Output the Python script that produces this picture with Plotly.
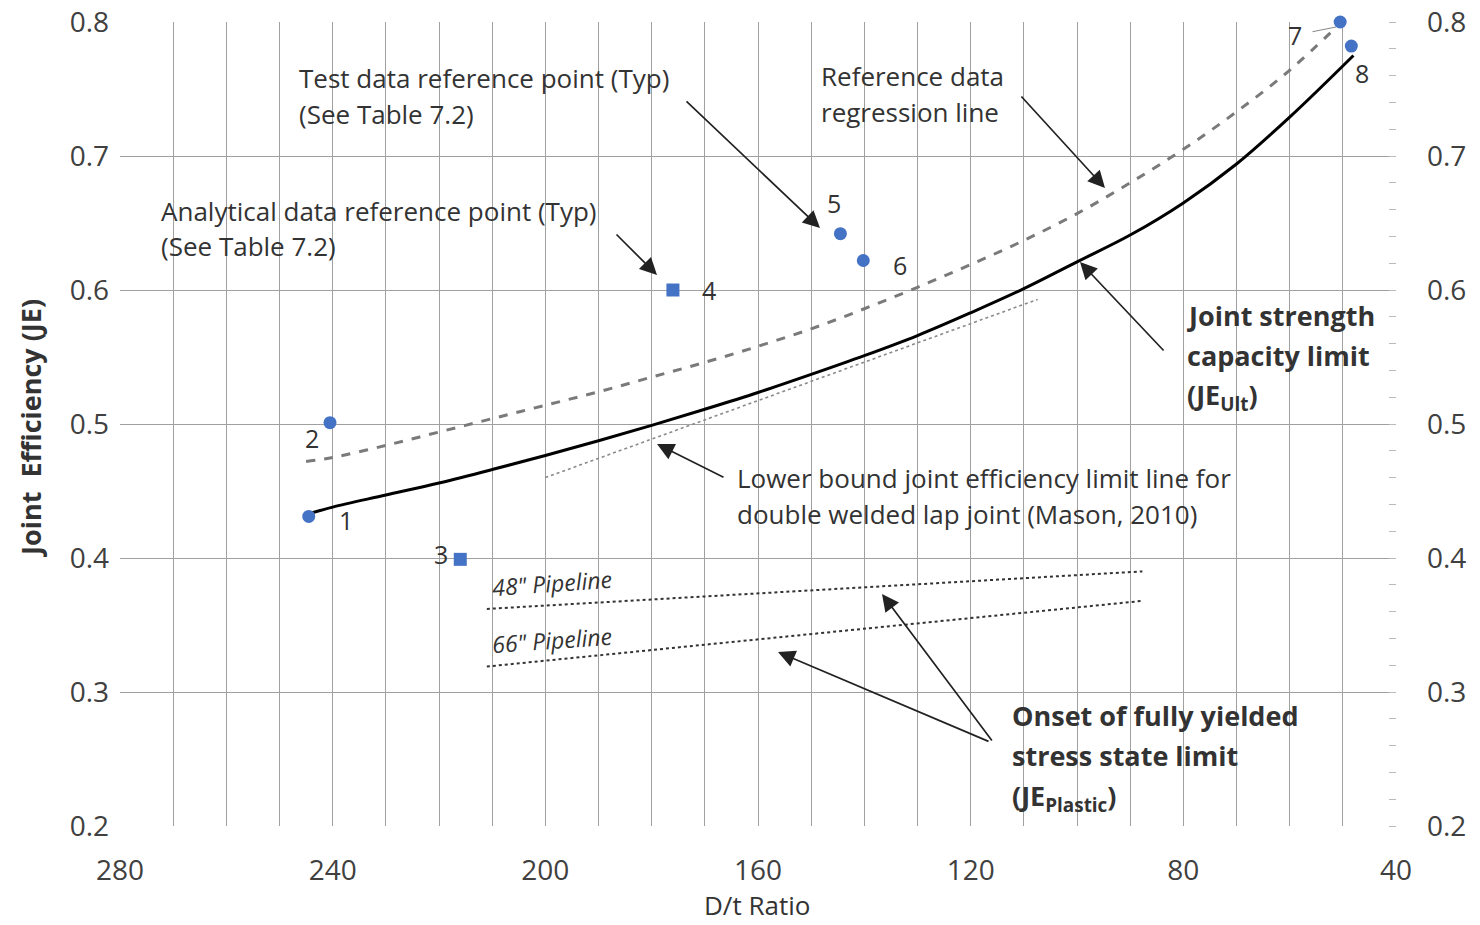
import plotly.graph_objects as go

# ---------------- data ----------------
point_ids = ["1", "2", "3", "4", "5", "6", "7", "8"]
point_dt = [244.5, 240.5, 216.0, 176.0, 144.5, 140.2, 50.5, 48.4]
point_je = [0.431, 0.501, 0.399, 0.600, 0.642, 0.622, 0.800, 0.782]
point_kind = ["test", "test", "analytical", "analytical", "test", "test", "test", "test"]

# Joint strength capacity limit (JE_ult)
ult_dt = [244.5, 240, 230, 220, 210, 200, 190, 180, 170, 160, 150, 140, 130, 120, 110, 100, 90, 80, 70, 60, 48]
ult_je = [0.433, 0.438, 0.447, 0.456, 0.466, 0.4765, 0.4875, 0.499, 0.511, 0.5235, 0.537, 0.551, 0.566, 0.583,
          0.601, 0.621, 0.641, 0.665, 0.694, 0.729, 0.775]

# Reference data regression line
reg_dt = [245, 240, 230, 220, 210, 200, 190, 180, 170, 160, 150, 140, 130, 120, 110, 100, 90, 80, 70, 60, 50.5]
reg_je = [0.472, 0.475, 0.484, 0.494, 0.504, 0.514, 0.524, 0.535, 0.546, 0.558, 0.571, 0.586, 0.602, 0.619,
          0.637, 0.657, 0.680, 0.705, 0.733, 0.764, 0.799]

# Lower bound joint efficiency limit line (Mason, 2010)
lb_dt = [200, 107.4]
lb_je = [0.460, 0.593]

# Onset of fully yielded stress state limit
p48_dt = [211, 87.7]
p48_je = [0.362, 0.390]
p66_dt = [211, 87.7]
p66_je = [0.319, 0.368]

x_ticks = [280, 240, 200, 160, 120, 80, 40]
y_ticks = [0.2, 0.3, 0.4, 0.5, 0.6, 0.7, 0.8]

# ---------------- helpers ----------------
L, R, T, B = 120, 1396, 22, 826
X0, X1, Y0, Y1 = 280, 40, 0.2, 0.8


def dx(p):
    return X0 + (p - L) * (X1 - X0) / (R - L)


def dy(p):
    return Y1 - (p - T) * (Y1 - Y0) / (B - T)


def pxp(p):
    return (p - L) / (R - L)


def pyp(p):
    return (B - p) / (B - T)


FONT = "Open Sans"
TXT = "#333333"
BLUE = "#4472C4"

fig = go.Figure()

fig.add_trace(go.Scatter(x=ult_dt, y=ult_je, mode="lines",
                         line=dict(color="black", width=3, shape="spline", smoothing=1.0), showlegend=False))
fig.add_trace(go.Scatter(x=reg_dt, y=reg_je, mode="lines",
                         line=dict(color="#7a7a7a", width=3, dash="dash", shape="spline", smoothing=1.0),
                         showlegend=False))
fig.add_trace(go.Scatter(x=lb_dt, y=lb_je, mode="lines", line=dict(color="#8a8a8a", width=1.6, dash="dot"),
                         showlegend=False))
fig.add_trace(go.Scatter(x=p48_dt, y=p48_je, mode="lines", line=dict(color="#333333", width=2, dash="dot"),
                         showlegend=False))
fig.add_trace(go.Scatter(x=p66_dt, y=p66_je, mode="lines", line=dict(color="#333333", width=2, dash="dot"),
                         showlegend=False))

circ_x = [x for x, k in zip(point_dt, point_kind) if k == "test"]
circ_y = [y for y, k in zip(point_je, point_kind) if k == "test"]
sq_x = [x for x, k in zip(point_dt, point_kind) if k == "analytical"]
sq_y = [y for y, k in zip(point_je, point_kind) if k == "analytical"]
fig.add_trace(go.Scatter(x=circ_x, y=circ_y, mode="markers", marker=dict(symbol="circle", size=13, color=BLUE),
                         showlegend=False, cliponaxis=False))
fig.add_trace(go.Scatter(x=sq_x, y=sq_y, mode="markers", marker=dict(symbol="square", size=13, color=BLUE),
                         showlegend=False, cliponaxis=False))
# invisible trace for the right axis
fig.add_trace(go.Scatter(x=[X0], y=[Y0], yaxis="y2", mode="markers", marker=dict(opacity=0), showlegend=False,
                         hoverinfo="skip"))

ann = []
# point labels
label_shift = {"1": (37, -4), "2": (-18, -15), "3": (-19, 5), "4": (36, 0), "5": (-6, 31),
               "6": (37, -4), "7": (-45, -13), "8": (11, -27)}
for pid, x, y in zip(point_ids, point_dt, point_je):
    sx, sy = label_shift[pid]
    ann.append(dict(x=x, y=y, xref="x", yref="y", text=pid, showarrow=False, xshift=sx, yshift=sy,
                    font=dict(family=FONT, size=25, color=TXT)))

# leader for label 7
ann.append(dict(x=dx(1336), y=dy(27), ax=dx(1311), ay=dy(32), xref="x", yref="y", axref="x", ayref="y",
                text="", showarrow=True, arrowhead=0, arrowwidth=1, arrowcolor="#888888"))


def text_line(x, y, s, size=26, bold=False, italic=False, angle=0):
    t = s
    if bold:
        t = "<b>" + t + "</b>"
    if italic:
        t = "<i>" + t + "</i>"
    ann.append(dict(x=pxp(x), y=pyp(y), xref="paper", yref="paper", text=t, showarrow=False,
                    xanchor="left", yanchor="middle", textangle=angle,
                    font=dict(family=FONT, size=size, color=TXT)))


text_line(297, 78, "Test data reference point (Typ)")
text_line(297, 114, "(See Table 7.2)")
text_line(159, 211, "Analytical data reference point (Typ)")
text_line(159, 246, "(See Table 7.2)")
text_line(819, 76, "Reference data")
text_line(819, 112, "regression line")
text_line(1185, 315, "Joint strength", size=27, bold=True)
text_line(1185, 355, "capacity limit", size=27, bold=True)
text_line(1185, 397, "(JE<sub>Ult</sub>)", size=27, bold=True)
text_line(735, 478, "Lower bound joint efficiency limit line for")
text_line(735, 514, "double welded lap joint (Mason, 2010)")
text_line(1010, 715, "Onset of fully yielded", size=27, bold=True)
text_line(1010, 755, "stress state limit", size=27, bold=True)
text_line(1010, 797, "(JE<sub>Plastic</sub>)", size=27, bold=True)
text_line(489, 583, "48\" Pipeline", size=23, italic=True, angle=-4)
text_line(489, 640, "66\" Pipeline", size=23, italic=True, angle=-4)

# arrows (head pixel, tail pixel)
arrows = [((820, 228), (685, 100)),
          ((1105, 188), (1020, 95)),
          ((657, 275), (615, 233)),
          ((1080, 262), (1165, 352)),
          ((657, 444), (725, 478)),
          ((882, 594), (993, 742)),
          ((778, 652), (990, 742))]
for (hx, hy), (tx, ty) in arrows:
    ann.append(dict(x=dx(hx), y=dy(hy), ax=dx(tx), ay=dy(ty), xref="x", yref="y", axref="x", ayref="y",
                    text="", showarrow=True, arrowhead=2, arrowsize=2.0, arrowwidth=1.7,
                    arrowcolor="#222222", standoff=0))

# axis titles
ann.append(dict(x=pxp(757), y=pyp(905), xref="paper", yref="paper", text="D/t Ratio", showarrow=False,
                xanchor="center", yanchor="middle", font=dict(family=FONT, size=26, color=TXT)))
ann.append(dict(x=pxp(30), y=pyp(428), xref="paper", yref="paper", text="<b>Joint  Efficiency (JE)</b>",
                showarrow=False, textangle=-90, xanchor="center", yanchor="middle",
                font=dict(family=FONT, size=27, color=TXT)))

GRID = "#a0a0a0"
fig.update_layout(
    template="none",
    width=1480, height=925,
    margin=dict(l=L, r=1480 - R, t=T, b=925 - B, pad=0, autoexpand=False),
    paper_bgcolor="white", plot_bgcolor="white",
    annotations=ann,
    xaxis=dict(range=[X0, X1], tickvals=x_ticks, ticktext=[str(v) for v in x_ticks], automargin=False,
               showgrid=True, gridcolor=GRID, gridwidth=1, zeroline=False, showline=False, ticks="",
               minor=dict(dtick=10, showgrid=True, gridcolor=GRID, gridwidth=1, ticks=""),
               tickfont=dict(family=FONT, size=28, color="#404040"), ticklabelstandoff=25),
    yaxis=dict(range=[Y0, Y1], tickvals=y_ticks, ticktext=["%.1f" % v for v in y_ticks], automargin=False,
               showgrid=True, gridcolor=GRID, gridwidth=1, zeroline=False, showline=False, ticks="",
               tickfont=dict(family=FONT, size=28, color="#404040"), ticklabelstandoff=10),
    yaxis2=dict(range=[Y0, Y1], tickvals=y_ticks, ticktext=["%.1f" % v for v in y_ticks], overlaying="y",
                side="right", showgrid=False, zeroline=False, showline=False, ticks="", automargin=False,
                minor=dict(dtick=0.02, ticks="inside", ticklen=7, tickcolor="#bbbbbb", showgrid=False),
                tickfont=dict(family=FONT, size=28, color="#404040"), ticklabelstandoff=30),
)

fig.write_html("out.html", config={"displayModeBar": False},
               post_script="document.body.style.margin='0';document.body.style.overflow='hidden';")
